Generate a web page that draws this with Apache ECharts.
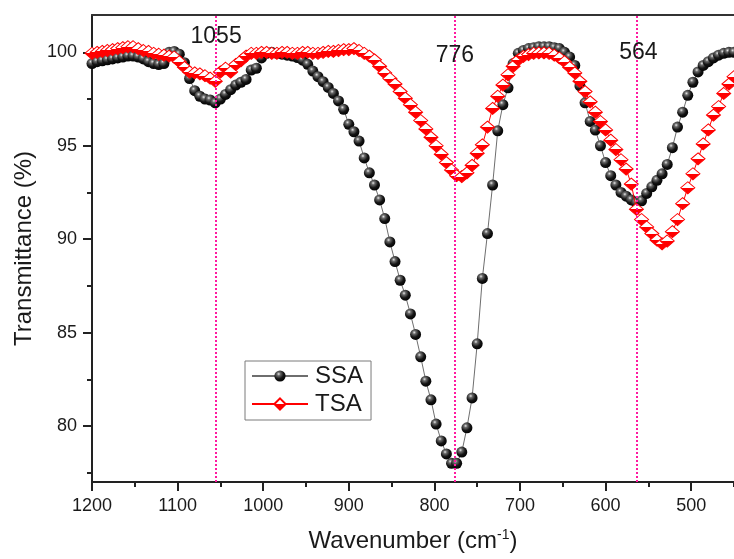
<!DOCTYPE html>
<html>
<head>
<meta charset="utf-8">
<script src="https://cdn.jsdelivr.net/npm/echarts@6/dist/echarts.min.js"></script>
<style>
  html, body { margin: 0; padding: 0; background: #ffffff; }
  #chart { width: 734px; height: 559px; }
</style>
</head>
<body>
<div id="chart"></div>
<script>
// ---- data ----
const wavenumber = [
  1200,1194,1188,1182,1176,1170,1164,1158,1152,1146,
  1140,1134,1128,1122,1116,1110,1104,1098,1092,1086,
  1080,1074,1068,1062,1056,1050,1044,1038,1032,1026,
  1020,1014,1008,1002,996,990,984,978,972,966,
  960,954,948,942,936,930,924,918,912,906,
  900,894,888,882,876,870,864,858,852,846,
  840,834,828,822,816,810,804,798,792,786,
  780,774,768,762,756,750,744,738,732,726,
  720,714,708,702,696,690,684,678,672,666,
  660,654,648,642,636,630,624,618,612,606,
  600,594,588,582,576,570,564,558,552,546,
  540,534,528,522,516,510,504,498,492,486,
  480,474,468,462,456,450
];
const ssa = [
  99.4,99.5,99.55,99.6,99.65,99.7,99.75,99.8,99.8,99.75,
  99.65,99.5,99.4,99.35,99.4,100.0,100.05,99.9,99.45,98.6,
  97.95,97.65,97.5,97.45,97.3,97.5,97.75,98.0,98.25,98.4,
  98.55,99.05,99.15,99.7,99.95,100.0,99.95,99.9,99.85,99.8,
  99.72,99.58,99.36,99.0,98.7,98.43,98.12,97.8,97.4,96.95,
  96.15,95.75,95.25,94.35,93.55,92.9,92.1,91.1,89.85,88.8,
  87.8,87.0,86.0,84.9,83.7,82.4,81.4,80.1,79.2,78.5,
  78.0,78.0,78.6,79.9,81.5,84.4,87.9,90.3,92.9,95.8,
  97.2,98.1,99.4,99.95,100.1,100.2,100.25,100.3,100.3,100.3,
  100.25,100.2,100.0,99.75,99.3,98.2,97.3,96.3,95.84,95.0,
  94.1,93.4,92.9,92.5,92.3,92.1,91.95,92.05,92.45,92.8,
  93.15,93.5,94.0,94.9,96.0,96.8,97.7,98.4,98.95,99.3,
  99.5,99.7,99.85,99.95,100.0,100.0
];
const tsa = [
  99.95,100.0,100.05,100.1,100.15,100.2,100.25,100.3,100.3,100.2,
  100.1,100.05,99.95,99.9,99.85,99.8,99.75,99.5,99.2,98.95,
  98.9,98.85,98.75,98.62,98.45,98.95,99.15,98.95,99.35,99.55,
  99.8,99.95,99.95,100.0,100.0,99.95,99.95,100.0,100.0,99.95,
  99.95,100.0,100.0,99.95,99.95,100.0,100.05,100.05,100.1,100.15,
  100.15,100.2,100.1,99.95,99.8,99.6,99.25,98.9,98.6,98.3,
  97.9,97.55,97.2,96.8,96.35,95.9,95.45,95.0,94.55,94.1,
  93.7,93.4,93.35,93.55,93.95,94.6,95.05,96.0,97.0,97.65,
  98.25,98.8,99.25,99.6,99.78,99.88,99.95,99.97,99.97,99.95,
  99.85,99.7,99.5,99.2,98.9,98.45,97.9,97.35,96.8,96.3,
  95.85,95.3,94.8,94.25,93.75,92.95,91.6,91.05,90.65,90.3,
  89.95,89.75,89.9,90.4,91.05,91.9,92.75,93.5,94.3,95.1,
  95.85,96.64,97.1,97.8,98.3,98.7
];
const seriesNames = ['SSA', 'TSA'];
const peakWavenumbers = [1055, 776, 564];
const peakLabels = ['1055', '776', '564'];
const xMajorTicks = [1200, 1100, 1000, 900, 800, 700, 600, 500];
const xMinorTicks = [1150, 1050, 950, 850, 750, 650, 550, 450];
const yMajorTicks = [80, 85, 90, 95, 100];
const yMinorTicks = [77.5, 82.5, 87.5, 92.5, 97.5];
const xRange = [450, 1200];
const yRange = [77, 102];

// ---- styling ----
const FONT = '"Liberation Sans", Arial, sans-serif';
const AXIS_COLOR = '#222';
const PEAK_COLOR = '#ff1aa0';

const sphere = {
  type: 'radial', x: 0.38, y: 0.32, r: 0.72,
  colorStops: [
    { offset: 0, color: '#e8e8e8' },
    { offset: 0.22, color: '#6a6a6a' },
    { offset: 0.6, color: '#151515' },
    { offset: 1, color: '#000000' }
  ]
};
const halfDiamond = {
  type: 'linear', x: 0, y: 0, x2: 0, y2: 1,
  colorStops: [
    { offset: 0, color: '#ffffff' },
    { offset: 0.5, color: '#ffffff' },
    { offset: 0.5, color: '#ff0000' },
    { offset: 1, color: '#ff0000' }
  ]
};

const gridPos = { left: 92, right: 0, top: 15, bottom: 77 };
const labelOffsets = [[0, 22], [0, 41], [2, 38]];

const chart = echarts.init(document.getElementById('chart'), null, { renderer: 'canvas' });

const option = {
  animation: false,
  backgroundColor: '#ffffff',
  textStyle: { fontFamily: FONT },
  grid: [
    Object.assign({ containLabel: false }, gridPos),
    Object.assign({ containLabel: false }, gridPos)
  ],
  legend: {
    data: seriesNames,
    orient: 'vertical',
    left: 245,
    top: 361,
    padding: [3, 8, 4, 6],
    itemGap: 4,
    itemWidth: 56,
    itemHeight: 14,
    borderColor: '#7a7a7a',
    borderWidth: 1,
    backgroundColor: '#ffffff',
    textStyle: { fontFamily: FONT, fontSize: 24, color: '#1a1a1a', padding: [0, 0, 0, 2] }
  },
  xAxis: [
    {
      type: 'value', gridIndex: 0, position: 'bottom', inverse: true,
      min: xRange[0], max: xRange[1],
      name: 'Wavenumber (cm{sup|-1})',
      nameLocation: 'middle', nameGap: 46,
      nameTextStyle: {
        fontFamily: FONT, fontSize: 24, color: '#1a1a1a',
        rich: { sup: { fontFamily: FONT, fontSize: 14, color: '#1a1a1a', verticalAlign: 'top', padding: [0, 0, 12, 0] } }
      },
      axisLine: { show: true, onZero: false, lineStyle: { color: AXIS_COLOR, width: 2 } },
      axisTick: { show: true, inside: false, length: 9, customValues: xMajorTicks, lineStyle: { color: AXIS_COLOR, width: 2 } },
      axisLabel: {
        show: true, customValues: xMajorTicks, margin: 15,
        formatter: v => String(v),
        fontFamily: FONT, fontSize: 18, color: '#1a1a1a'
      },
      splitLine: { show: false }
    },
    {
      type: 'value', gridIndex: 0, position: 'top', inverse: true,
      min: xRange[0], max: xRange[1],
      axisLine: { show: true, onZero: false, lineStyle: { color: '#333', width: 2 } },
      axisTick: { show: false }, axisLabel: { show: false }, splitLine: { show: false }
    },
    {
      type: 'value', gridIndex: 1, position: 'bottom', inverse: true,
      min: xRange[0], max: xRange[1],
      axisLine: { show: false, onZero: false },
      axisTick: { show: true, inside: false, length: 5, customValues: xMinorTicks, lineStyle: { color: AXIS_COLOR, width: 2 } },
      axisLabel: { show: false }, splitLine: { show: false }
    }
  ],
  yAxis: [
    {
      type: 'value', gridIndex: 0, position: 'left',
      min: yRange[0], max: yRange[1],
      name: 'Transmittance (%)',
      nameLocation: 'middle', nameGap: 52,
      nameTextStyle: { fontFamily: FONT, fontSize: 24, color: '#1a1a1a' },
      axisLine: { show: true, onZero: false, lineStyle: { color: AXIS_COLOR, width: 2 } },
      axisTick: { show: true, inside: false, length: 9, customValues: yMajorTicks, lineStyle: { color: AXIS_COLOR, width: 2 } },
      axisLabel: {
        show: true, customValues: yMajorTicks, margin: 15,
        formatter: v => String(v),
        fontFamily: FONT, fontSize: 18, color: '#1a1a1a'
      },
      splitLine: { show: false }
    },
    {
      type: 'value', gridIndex: 1, position: 'left',
      min: yRange[0], max: yRange[1],
      axisLine: { show: false, onZero: false },
      axisTick: { show: true, inside: false, length: 5, customValues: yMinorTicks, lineStyle: { color: AXIS_COLOR, width: 2 } },
      axisLabel: { show: false }, splitLine: { show: false }
    }
  ],
  series: [
    {
      name: seriesNames[0],
      type: 'line',
      xAxisIndex: 0, yAxisIndex: 0,
      data: wavenumber.map((w, i) => [w, ssa[i]]),
      symbol: 'circle',
      symbolSize: 11,
      showAllSymbol: true,
      lineStyle: { color: '#6e6e6e', width: 1 },
      itemStyle: { color: sphere, borderWidth: 0 },
      z: 3,
      markLine: {
        silent: true,
        symbol: ['none', 'none'],
        label: { show: false },
        lineStyle: { color: PEAK_COLOR, type: [2, 2], width: 2, opacity: 1 },
        data: peakWavenumbers.map(w => ({ xAxis: w }))
      },
      markPoint: {
        silent: true,
        symbol: 'circle',
        symbolSize: 0,
        data: peakWavenumbers.map((w, i) => ({
          coord: [w, yRange[1]],
          value: peakLabels[i],
          label: {
            show: true, position: 'inside', offset: labelOffsets[i],
            formatter: peakLabels[i],
            fontFamily: FONT, fontSize: 23, color: '#1a1a1a'
          }
        }))
      }
    },
    {
      name: seriesNames[1],
      type: 'line',
      xAxisIndex: 0, yAxisIndex: 0,
      data: wavenumber.map((w, i) => [w, tsa[i]]),
      symbol: 'diamond',
      symbolSize: [14, 12],
      showAllSymbol: true,
      lineStyle: { color: '#ff0000', width: 1 },
      itemStyle: { color: halfDiamond, borderColor: '#ff0000', borderWidth: 1 },
      z: 4
    }
  ]
};

chart.setOption(option);
</script>
</body>
</html>
